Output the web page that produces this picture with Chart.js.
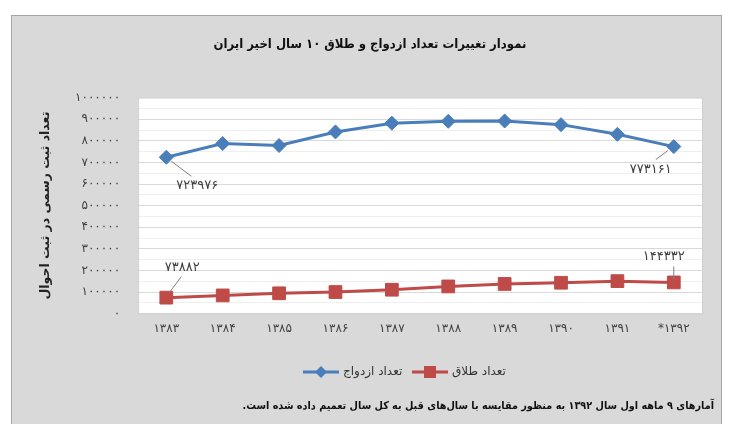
<!DOCTYPE html>
<html>
<head>
<meta charset="utf-8">
<script src="https://cdn.jsdelivr.net/npm/chart.js@4"></script>
<style>
  html, body { margin: 0; padding: 0; background: #fff; }
</style>
</head>
<body>
<canvas id="chart" width="733" height="424"></canvas>
<script>
// data
const years = ['۱۳۸۳', '۱۳۸۴', '۱۳۸۵', '۱۳۸۶', '۱۳۸۷', '۱۳۸۸', '۱۳۸۹', '۱۳۹۰', '۱۳۹۱', '*۱۳۹۲'];
const marriages = [723976, 787273, 778100, 841107, 881592, 890208, 891627, 874792, 829968, 773161];
const divorces = [73882, 84241, 94039, 99852, 110510, 125747, 137200, 142841, 150324, 144332];

const titleText = 'نمودار تغییرات تعداد ازدواج و طلاق ۱۰ سال اخیر ایران';
const yTitle = 'تعداد ثبت رسمی در ثبت احوال';
const footnote = 'آمارهای ۹ ماهه اول سال ۱۳۹۲ به منظور مقایسه با سال‌های قبل به کل سال تعمیم داده شده است.';
const seriesNames = ['تعداد ازدواج', 'تعداد طلاق'];

const blue = '#4a7ebb';
const red = '#be4b48';
const FONT = '"DejaVu Sans", sans-serif';
const FONT_C = '"DejaVu Sans Condensed", "DejaVu Sans", sans-serif';

// western digits -> persian digits
function toFa(n) {
    return String(n).replace(/[0-9]/g, d => '۰۱۲۳۴۵۶۷۸۹'[d]);
}

// labels with leader lines (offsets from the point, in px)
const pointNotes = [
    { ds: 0, i: 0, dx: 31, dy: 28, line: [5, 4, 25, 19] },
    { ds: 0, i: 9, dx: -23, dy: 23, line: [-6, 4, -18, 13] },
    { ds: 1, i: 0, dx: 16, dy: -30, line: [3, -5, 15, -21] },
    { ds: 1, i: 9, dx: -10, dy: -26, line: [0, -3, 0, -16] }
];

// legend entries: x of the sample line start, shape
const legendItems = [
    { ds: 0, x: 303, shape: 'diamond' },
    { ds: 1, x: 412, shape: 'square' }
];
const legendY = 372;

const decorPlugin = {
    id: 'decor',
    beforeDraw(chart) {
        const ctx = chart.ctx;
        const a = chart.chartArea;
        ctx.save();
        ctx.fillStyle = '#ffffff';
        ctx.fillRect(0, 0, chart.width, chart.height);
        ctx.fillStyle = '#d9d9d9';
        ctx.fillRect(11, 15, 711, 420);
        ctx.strokeStyle = '#a5a5a5';
        ctx.lineWidth = 1;
        ctx.strokeRect(11.5, 15.5, 710, 420);
        ctx.fillStyle = '#ffffff';
        ctx.fillRect(a.left, a.top, a.right - a.left, a.bottom - a.top);
        ctx.restore();
    },
    afterDraw(chart) {
        const ctx = chart.ctx;
        const a = chart.chartArea;
        ctx.save();
        ctx.strokeStyle = '#d0d0d0';
        ctx.lineWidth = 1;
        ctx.strokeRect(a.left + 0.5, a.top + 0.5, a.right - a.left, a.bottom - a.top);

        // legend
        ctx.font = '12px ' + FONT;
        ctx.textBaseline = 'middle';
        ctx.textAlign = 'left';
        legendItems.forEach(item => {
            const ds = chart.data.datasets[item.ds];
            const x = item.x;
            ctx.strokeStyle = ds.borderColor;
            ctx.fillStyle = ds.borderColor;
            ctx.lineWidth = 3;
            ctx.beginPath(); ctx.moveTo(x, legendY); ctx.lineTo(x + 36, legendY); ctx.stroke();
            const cx = x + 18;
            if (item.shape === 'diamond') {
                ctx.beginPath();
                ctx.moveTo(cx, legendY - 6); ctx.lineTo(cx + 6, legendY);
                ctx.lineTo(cx, legendY + 6); ctx.lineTo(cx - 6, legendY);
                ctx.closePath(); ctx.fill();
            } else {
                ctx.fillRect(cx - 6, legendY - 6, 12, 12);
            }
            ctx.fillStyle = '#333';
            ctx.fillText(ds.label, x + 40, legendY);
        });

        // footnote
        ctx.fillStyle = '#111';
        ctx.font = 'bold 10.75px ' + FONT_C;
        ctx.textAlign = 'right';
        ctx.direction = 'rtl';
        ctx.fillText(footnote, 714, 406);
        ctx.restore();
    },
    afterDatasetsDraw(chart) {
        const ctx = chart.ctx;
        ctx.save();
        ctx.font = '13px ' + FONT;
        ctx.fillStyle = '#404040';
        ctx.textAlign = 'center';
        ctx.textBaseline = 'middle';
        ctx.strokeStyle = '#7f7f7f';
        ctx.lineWidth = 1;
        pointNotes.forEach(n => {
            const p = chart.getDatasetMeta(n.ds).data[n.i];
            const value = chart.data.datasets[n.ds].data[n.i];
            ctx.beginPath();
            ctx.moveTo(p.x + n.line[0], p.y + n.line[1]);
            ctx.lineTo(p.x + n.line[2], p.y + n.line[3]);
            ctx.stroke();
            ctx.fillText(toFa(value), p.x + n.dx, p.y + n.dy);
        });
        ctx.restore();
    }
};

const ctx = document.getElementById('chart').getContext('2d');

new Chart(ctx, {
    type: 'line',
    data: {
        labels: years,
        datasets: [
            {
                label: seriesNames[0],
                data: marriages,
                borderColor: blue,
                backgroundColor: blue,
                borderWidth: 3,
                pointStyle: 'rectRot',
                pointRadius: 7,
                pointBorderWidth: 1,
                tension: 0
            },
            {
                label: seriesNames[1],
                data: divorces,
                borderColor: red,
                backgroundColor: red,
                borderWidth: 3,
                pointStyle: 'rect',
                pointRadius: 9,
                pointBorderWidth: 1,
                tension: 0
            }
        ]
    },
    options: {
        responsive: false,
        animation: false,
        layout: { padding: { left: 38, right: 31, top: 0, bottom: 88 } },
        scales: {
            x: {
                offset: true,
                grid: { display: false },
                border: { display: false },
                ticks: { color: '#404040', font: { family: FONT, size: 12 }, padding: 0 }
            },
            y: {
                min: 0,
                max: 1000000,
                border: { display: false },
                grid: {
                    drawTicks: false,
                    color: c => (c.tick.value % 100000 === 0 ? '#d9d9d9' : '#efefef')
                },
                ticks: {
                    stepSize: 50000,
                    autoSkip: false,
                    padding: 18,
                    color: '#404040',
                    font: { family: FONT, size: 12 },
                    callback: v => (v % 100000 === 0 ? toFa(v) : '')
                },
                title: {
                    display: true,
                    text: yTitle,
                    color: '#222',
                    font: { family: FONT, size: 12.5, weight: 'bold' },
                    padding: { top: 0, bottom: 4 }
                }
            }
        },
        plugins: {
            title: {
                display: true,
                text: titleText,
                color: '#111',
                font: { family: FONT_C, size: 13, weight: 'bold' },
                padding: { top: 37, bottom: 45 }
            },
            legend: { display: false },
            tooltip: { enabled: false }
        }
    },
    plugins: [decorPlugin]
});
</script>
</body>
</html>
